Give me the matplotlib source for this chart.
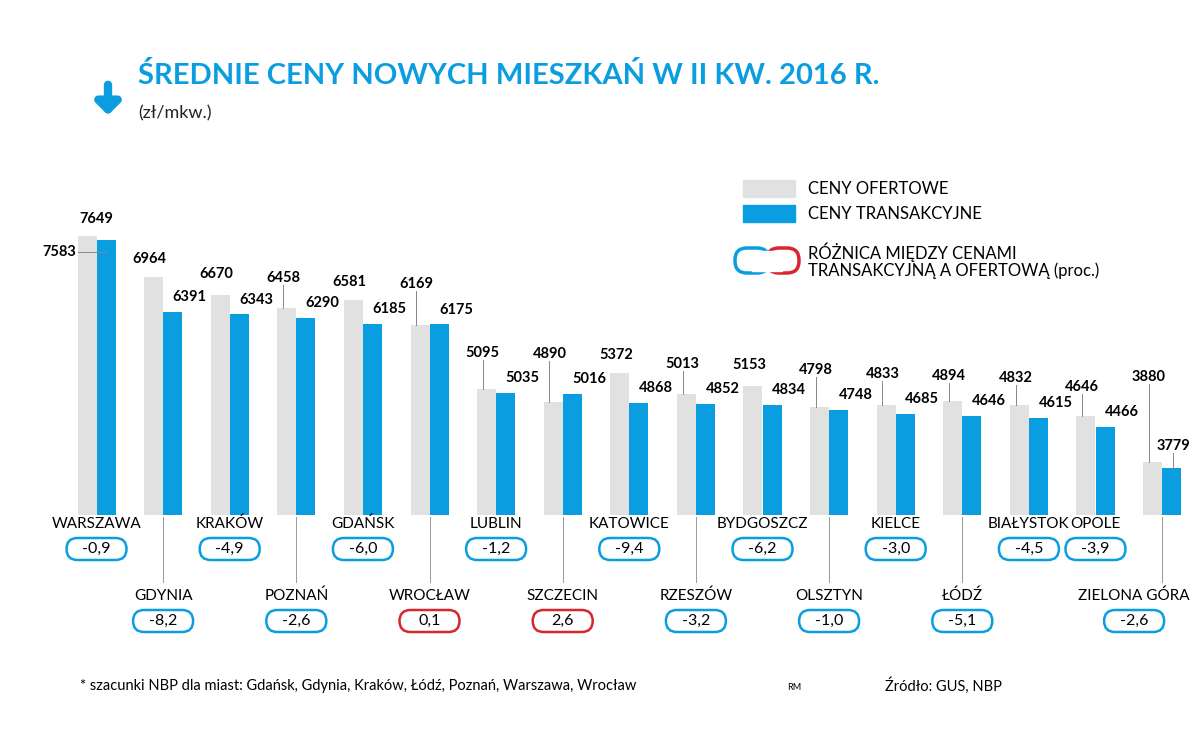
import matplotlib
matplotlib.use("Agg")
import matplotlib.pyplot as plt
from matplotlib.patches import FancyBboxPatch

cities = ["WARSZAWA", "GDYNIA", "KRAKÓW", "POZNAŃ", "GDAŃSK", "WROCŁAW", "LUBLIN",
          "SZCZECIN", "KATOWICE", "RZESZÓW", "BYDGOSZCZ", "OLSZTYN", "KIELCE", "ŁÓDŹ",
          "BIAŁYSTOK", "OPOLE", "ZIELONA GÓRA"]
offer = [7649, 6964, 6670, 6458, 6581, 6169, 5095, 4890, 5372, 5013, 5153, 4798, 4833, 4894, 4832, 4646, 3880]
trans = [7583, 6391, 6343, 6290, 6185, 6175, 5035, 5016, 4868, 4852, 4834, 4748, 4685, 4646, 4615, 4466, 3779]
diff = [-0.9, -8.2, -4.9, -2.6, -6.0, 0.1, -1.2, 2.6, -9.4, -3.2, -6.2, -1.0, -3.0, -5.1, -4.5, -3.9, -2.6]
lower_row = [1, 3, 5, 7, 9, 11, 13, 16]

GRAY = "#e1e1e1"
BLUE = "#0a9ee0"
RED = "#d7262f"
plt.rcParams["font.family"] = "Lato"

W, H = 1200, 754
fig = plt.figure(figsize=(12, 7.54), dpi=100)
fig.patch.set_facecolor("white")

ax = fig.add_axes([0, (H - 515) / H, 1, 300 / H])
ax.set_xlim((0 - 96.5) / 66.6, (1200 - 96.5) / 66.6)
ax.axis("off")
bw = 19 / 66.6
xs = list(range(len(cities)))
ax.bar([x - bw / 2 for x in xs], offer, width=bw, color=GRAY)
ax.bar([x + bw / 2 for x in xs], trans, width=bw, color=BLUE)
ax.set_ylim(3000, 8000)

n = len(cities)
for i, (g, t) in enumerate(zip(offer, trans)):
    if i == 0:
        ax.text(i, 8000 - 180, f"{g}", ha="center", va="bottom", fontsize=10.5, fontweight="bold", clip_on=False)
        ax.text(i - 0.3, t - 200, f"{t}", ha="right", va="center", fontsize=10.5, fontweight="bold")
        ax.plot([i - 0.28, i + bw / 2], [t - 200, t - 200], color="#888", lw=0.7)
        continue
    gl = max(g + 180, t + 550)
    if i == n - 1:
        gl = g + 1300
    ax.text(i - bw * 0.7, gl, f"{g}", ha="center", va="bottom", fontsize=10.5, fontweight="bold")
    if gl > g + 250:
        ax.plot([i - bw * 0.7, i - bw * 0.7], [g, gl], color="#888", lw=0.7)
    if i == n - 1:
        ax.text(i + bw * 0.6, t + 250, f"{t}", ha="center", va="bottom", fontsize=10.5, fontweight="bold")
        ax.plot([i + bw * 0.6, i + bw * 0.6], [t, t + 250], color="#888", lw=0.7)
    else:
        ax.text(i + bw * 0.5, t + 130, f"{t}", ha="left", va="bottom", fontsize=10.5, fontweight="bold")

ov = fig.add_axes([0, 0, 1, 1])
ov.set_xlim(0, W)
ov.set_ylim(H, 0)
ov.axis("off")
for i, (c, d) in enumerate(zip(cities, diff)):
    xc = 96.5 + 66.6 * i
    if i not in lower_row:
        ny, py = 524, 549
    else:
        ov.plot([xc, xc], [517, 582], color="#999", lw=0.7)
        ny, py = 596, 621
        if i == n - 1:
            xc -= 28
    ov.text(xc, ny, c, ha="center", va="center", fontsize=11)
    col = RED if d > 0 else BLUE
    ov.add_patch(FancyBboxPatch((xc - 30, py - 11), 60, 22, boxstyle="round,pad=0,rounding_size=11",
                                fc="white", ec=col, lw=1.8))
    ov.text(xc, py, f"{d:.1f}".replace(".", ","), ha="center", va="center", fontsize=11.5)

ov.text(138, 75, "ŚREDNIE CENY NOWYCH MIESZKAŃ W II KW. 2016 R.", fontsize=21, fontweight="bold",
        color=BLUE, ha="left", va="center")
ov.text(138, 113, "(zł/mkw.)", fontsize=13, ha="left", va="center", color="#222")
ov.annotate("", xy=(108, 118), xytext=(108, 82),
            arrowprops=dict(arrowstyle="-|>,head_width=0.7,head_length=0.7", color=BLUE, lw=6))

ov.add_patch(plt.Rectangle((743, 180), 52, 17, color=GRAY))
ov.text(808, 189, "CENY OFERTOWE", fontsize=12, va="center")
ov.add_patch(plt.Rectangle((743, 205), 52, 17, color=BLUE))
ov.text(808, 214, "CENY TRANSAKCYJNE", fontsize=12, va="center")
ov.add_patch(FancyBboxPatch((735, 248), 34, 25, boxstyle="round,pad=0,rounding_size=12", fc="white", ec=BLUE, lw=2.5))
ov.add_patch(FancyBboxPatch((767, 248), 32, 25, boxstyle="round,pad=0,rounding_size=12", fc="white", ec=RED, lw=2.5))
ov.add_patch(plt.Rectangle((752, 250.5), 30, 20, color="white", zorder=3))
ov.text(808, 252, "RÓŻNICA MIĘDZY CENAMI", fontsize=12, va="center")
ov.text(808, 271, "TRANSAKCYJNĄ A OFERTOWĄ (proc.)", fontsize=12, va="center")

ov.text(80, 686, "* szacunki NBP dla miast: Gdańsk, Gdynia, Kraków, Łódź, Poznań, Warszawa, Wrocław",
        fontsize=10.5, va="center")
ov.text(787, 687, "RM", fontsize=6.5, va="center")
ov.text(885, 686, "Źródło: GUS, NBP", fontsize=10.5, va="center")

fig.savefig("out.png", dpi=100, facecolor="white")
